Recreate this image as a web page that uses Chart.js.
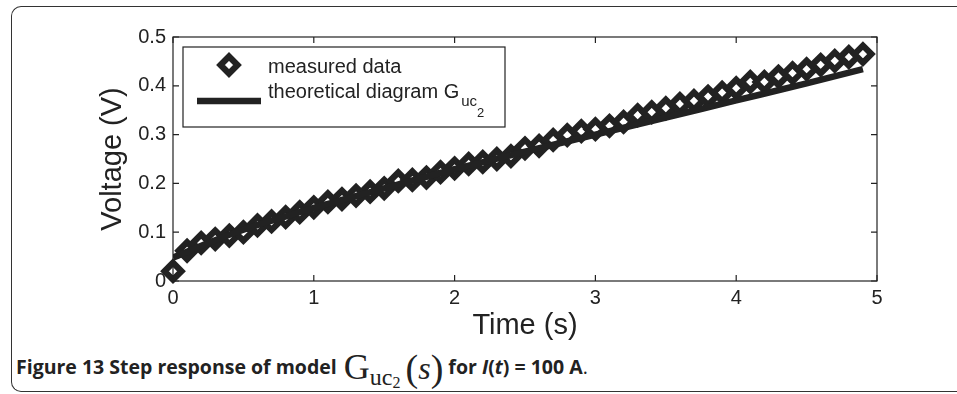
<!DOCTYPE html>
<html>
<head>
<meta charset="utf-8">
<script src="https://cdn.jsdelivr.net/npm/chart.js@4"></script>
<style>
  body { margin: 0; background: #fff; width: 957px; height: 394px; overflow: hidden; position: relative; }
  #frame { position: absolute; left: 11px; top: 6px; width: 980px; height: 384px; border: 1.5px solid #333; border-right: none; border-radius: 10px 0 0 10px; }
  #plot { position: absolute; left: 0; top: 0; }
  #cap { position: absolute; left: 16px; top: 361px; font-family: "Open Sans", sans-serif; font-size: 19.5px; color: #222; white-space: nowrap; line-height: 0; }
  #cap b { font-weight: 700; }
  .ser { font-family: "Liberation Serif", "Times New Roman", serif; font-weight: 400; }
  .G { font-size: 36px; position: relative; top: 5px; margin-left: 2px; }
  .sub1 { font-size: 24px; position: relative; top: 11px; }
  .sub2 { font-size: 16px; position: relative; top: 3px; }
  .par { font-size: 38px; position: relative; top: 7px; }
  .s { font-size: 32px; font-style: italic; position: relative; top: 5px; }
</style>
</head>
<body>
<div id="frame"></div>
<canvas id="plot" width="957" height="340"></canvas>
<div id="cap"><b>Figure 13 Step response of model </b><span class="ser G">G</span><span class="ser sub1">uc<span class="sub2">2</span></span> <span class="ser par">(</span><span class="ser s">s</span><span class="ser par">)</span><b> for <i>I</i>(<i>t</i>) = 100 A</b>.</div>
<script>
// maalte punkt (tid i s, spenning i V)
var tMaalt = [0, 0.1, 0.2, 0.3, 0.4, 0.5, 0.6, 0.7, 0.8, 0.9,
              1.0, 1.1, 1.2, 1.3, 1.4, 1.5, 1.6, 1.7, 1.8, 1.9,
              2.0, 2.1, 2.2, 2.3, 2.4, 2.5, 2.6, 2.7, 2.8, 2.9,
              3.0, 3.1, 3.2, 3.3, 3.4, 3.5, 3.6, 3.7, 3.8, 3.9,
              4.0, 4.1, 4.2, 4.3, 4.4, 4.5, 4.6, 4.7, 4.8, 4.9];
var vMaalt = [0.020, 0.062, 0.078, 0.086, 0.093, 0.100, 0.114, 0.122, 0.131, 0.141,
              0.151, 0.162, 0.168, 0.175, 0.183, 0.190, 0.205, 0.207, 0.212, 0.223,
              0.231, 0.240, 0.244, 0.250, 0.256, 0.272, 0.277, 0.289, 0.299, 0.307,
              0.311, 0.318, 0.326, 0.340, 0.346, 0.354, 0.363, 0.369, 0.378, 0.386,
              0.395, 0.408, 0.408, 0.419, 0.426, 0.434, 0.443, 0.451, 0.459, 0.465];
// teoretisk kurve
var tTeori = [0, 0.25, 0.5, 0.75, 1, 1.5, 2, 2.5, 3, 3.5, 4, 4.5, 4.9];
var vTeori = [0.048, 0.078, 0.105, 0.128, 0.150, 0.190, 0.229, 0.265, 0.300, 0.335, 0.370, 0.405, 0.434];
// akse-etikettar
var xTicks = ['0', '1', '2', '3', '4', '5'];
var yTicks = ['0', '0.1', '0.2', '0.3', '0.4', '0.5'];
var legendTekst = ['measured data', 'theoretical diagram G'];

var farge = '#222';
var tickFont = { family: 'Liberation Sans, Arial, sans-serif', size: 20 };

function lagPunkt(xs, ys) {
    var ut = [];
    for (var i = 0; i < xs.length; i++) ut.push({ x: xs[i], y: ys[i] });
    return ut;
}

// ramme med tickar inn mot plottet
var rammePlugin = {
    id: 'ramme',
    afterDatasetsDraw(chart) {
        var ctx = chart.ctx, a = chart.chartArea;
        var sx = chart.scales.x, sy = chart.scales.y;
        ctx.save();
        ctx.strokeStyle = farge;
        ctx.lineWidth = 1.2;
        ctx.strokeRect(a.left, a.top, a.right - a.left, a.bottom - a.top);
        ctx.beginPath();
        for (var i = 0; i < xTicks.length; i++) {
            var px = sx.getPixelForValue(i);
            ctx.moveTo(px, a.bottom); ctx.lineTo(px, a.bottom - 6);
            ctx.moveTo(px, a.top); ctx.lineTo(px, a.top + 6);
        }
        for (var j = 0; j < yTicks.length; j++) {
            var py = sy.getPixelForValue(j / 10);
            ctx.moveTo(a.left, py); ctx.lineTo(a.left + 6, py);
            ctx.moveTo(a.right, py); ctx.lineTo(a.right - 6, py);
        }
        ctx.stroke();
        ctx.restore();
    }
};

// forklaring med senka skrift
var forklaringPlugin = {
    id: 'forklaring',
    afterDraw(chart) {
        var ctx = chart.ctx;
        ctx.save();
        ctx.fillStyle = '#fff';
        ctx.fillRect(183, 47, 322, 80);
        ctx.strokeStyle = farge;
        ctx.lineWidth = 1.2;
        ctx.strokeRect(183, 47, 322, 80);
        // diamant
        var ds = chart.data.datasets[0];
        ctx.fillStyle = '#fff';
        ctx.strokeStyle = farge;
        ctx.lineWidth = ds.borderWidth;
        if (Chart.helpers && Chart.helpers.drawPoint) {
            Chart.helpers.drawPoint(ctx, { pointStyle: 'rectRot', radius: ds.pointRadius, borderWidth: ds.borderWidth, rotation: 0 }, 229, 65);
        } else {
            var r = ds.pointRadius * 0.707;
            ctx.beginPath();
            ctx.moveTo(229 - r, 65); ctx.lineTo(229, 65 - r); ctx.lineTo(229 + r, 65); ctx.lineTo(229, 65 + r); ctx.closePath();
            ctx.fill();
            ctx.stroke();
        }
        // linje
        ctx.beginPath();
        ctx.moveTo(197, 101); ctx.lineTo(261, 101);
        ctx.lineWidth = chart.data.datasets[1].borderWidth;
        ctx.stroke();
        // tekst
        ctx.fillStyle = farge;
        ctx.textBaseline = 'alphabetic';
        ctx.font = '20px Liberation Sans, Arial, sans-serif';
        ctx.fillText(legendTekst[0], 268, 73);
        ctx.fillText(legendTekst[1], 268, 98);
        var w = ctx.measureText(legendTekst[1]).width;
        ctx.font = '15px Liberation Sans, Arial, sans-serif';
        ctx.fillText('uc', 268 + w + 2, 106);
        var w2 = ctx.measureText('uc').width;
        ctx.font = '13px Liberation Sans, Arial, sans-serif';
        ctx.fillText('2', 268 + w + 2 + w2, 117);
        ctx.restore();
    }
};

var diagram = new Chart(document.getElementById('plot').getContext('2d'), {
    type: 'scatter',
    data: {
        datasets: [{
            label: legendTekst[0],
            data: lagPunkt(tMaalt, vMaalt),
            pointStyle: 'rectRot',
            pointRadius: 8.5,
            borderWidth: 6.2,
            borderColor: farge,
            backgroundColor: '#fff',
            clip: false,
            order: 2
        }, {
            type: 'line',
            label: legendTekst[1],
            data: lagPunkt(tTeori, vTeori),
            borderColor: farge,
            borderWidth: 6.5,
            pointRadius: 0,
            cubicInterpolationMode: 'monotone',
            fill: false,
            order: 1
        }]
    },
    options: {
        responsive: false,
        animation: false,
        events: [],
        layout: { padding: { top: 37, right: 80, left: 0, bottom: 0 } },
        plugins: {
            legend: { display: false },
            tooltip: { enabled: false }
        },
        scales: {
            x: {
                type: 'linear',
                min: 0,
                max: 5,
                grid: { display: false, drawTicks: false },
                border: { display: false },
                ticks: {
                    stepSize: 1,
                    color: farge,
                    font: tickFont,
                    padding: 5,
                    callback: function (v) { return xTicks[Math.round(v)]; }
                },
                title: {
                    display: true,
                    text: 'Time (s)',
                    color: farge,
                    font: { family: 'Liberation Sans, Arial, sans-serif', size: 29, lineHeight: 1 },
                    padding: 0
                },
                afterFit: function (s) { s.height = 340 - 281; }
            },
            y: {
                min: 0,
                max: 0.5,
                grid: { display: false, drawTicks: false },
                border: { display: false },
                ticks: {
                    stepSize: 0.1,
                    color: farge,
                    font: tickFont,
                    padding: 7,
                    callback: function (v) { return yTicks[Math.round(v * 10)]; }
                },
                title: {
                    display: true,
                    text: 'Voltage (V)',
                    color: farge,
                    font: { family: 'Liberation Sans, Arial, sans-serif', size: 29, lineHeight: 1 },
                    padding: { top: 98, bottom: 0 }
                },
                afterFit: function (s) { s.width = 173; }
            }
        }
    },
    plugins: [rammePlugin, forklaringPlugin]
});
</script>
</body>
</html>
